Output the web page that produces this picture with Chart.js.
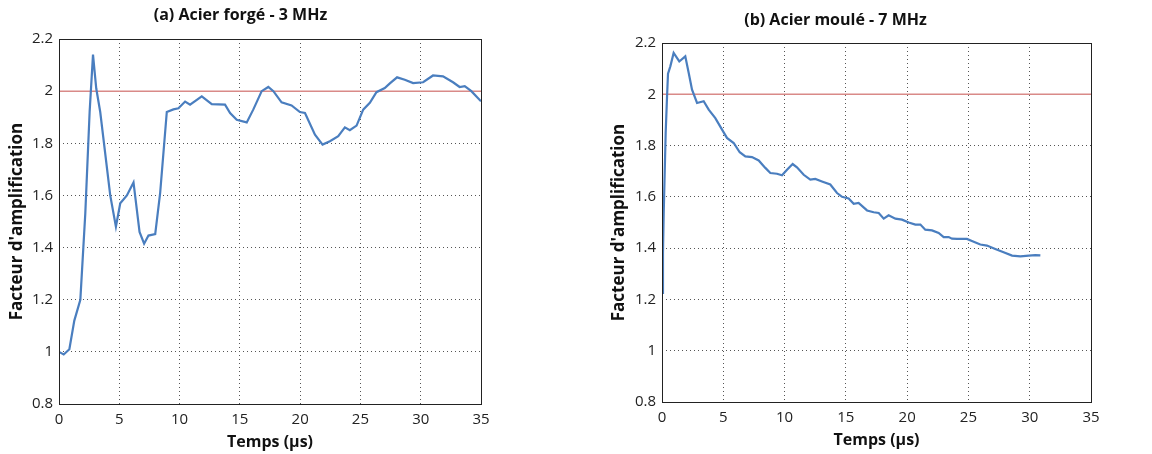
<!DOCTYPE html>
<html>
<head>
<meta charset="utf-8">
<script src="https://cdn.jsdelivr.net/npm/chart.js@4/dist/chart.umd.min.js"></script>
<style>
  body { margin: 0; background: #fff; }
  canvas { position: absolute; top: 0; }
  #chartA { left: 0; }
  #chartB { left: 580px; }
</style>
</head>
<body>
<canvas id="chartA" width="560" height="454"></canvas>
<canvas id="chartB" width="572" height="454"></canvas>
<script>
// (a) Acier forgé - 3 MHz
const tempsA = [0, 0.39, 0.86, 1.27, 1.77, 2.18, 2.54, 2.82, 3.09, 3.42, 4.25, 4.72, 5.08, 5.63, 6.18, 6.68, 7.06, 7.42, 7.98, 8.39,
  8.94, 9.49, 9.91, 10.46, 10.87, 11.84, 12.67, 13.77, 14.19, 14.74, 15.57, 16.12, 16.81, 17.36, 17.78, 18.46, 19.29, 19.98, 20.4,
  21.23, 21.86, 22.47, 23.16, 23.71, 24.12, 24.68, 25.23, 25.78, 26.33, 27.02, 27.44, 28.04, 28.68, 29.37, 30.2, 31.02, 31.85,
  32.68, 33.23, 33.65, 34.2, 35];
const facteurA = [1.0, 0.99, 1.01, 1.12, 1.2, 1.53, 1.92, 2.14, 2.01, 1.92, 1.6, 1.48, 1.57, 1.6, 1.65, 1.46, 1.415, 1.446, 1.452, 1.61,
  1.92, 1.93, 1.934, 1.96, 1.948, 1.98, 1.95, 1.948, 1.916, 1.89, 1.88, 1.93, 2.0, 2.016, 2.0, 1.957, 1.945, 1.92, 1.916,
  1.833, 1.795, 1.808, 1.827, 1.861, 1.85, 1.868, 1.929, 1.955, 1.996, 2.012, 2.03, 2.053, 2.044, 2.031, 2.034, 2.06, 2.057,
  2.034, 2.016, 2.019, 2.0, 1.961];

// (b) Acier moulé - 7 MHz
const tempsB = [0, 0.08, 0.14, 0.22, 0.3, 0.41, 0.49, 0.68, 0.95, 1.41, 1.9, 2.18, 2.45, 2.86, 3.4, 3.81, 4.35, 4.9, 5.3, 5.85,
  6.34, 6.8, 7.34, 7.89, 8.43, 8.84, 9.38, 9.79, 10.2, 10.66, 11.01, 11.56, 12.1, 12.51, 13.05, 13.73, 14.28, 14.69, 15.23,
  15.64, 16.04, 16.73, 17.27, 17.68, 18.09, 18.49, 19.04, 19.58, 20.13, 20.67, 21.08, 21.48, 22.03, 22.57, 22.98, 23.39,
  23.66, 24.07, 24.88, 25.43, 25.97, 26.51, 27.19, 27.87, 28.56, 29.24, 29.92, 30.46, 30.87];
const facteurB = [1.225, 1.381, 1.537, 1.693, 1.849, 1.99, 2.08, 2.109, 2.161, 2.128, 2.148, 2.083, 2.018, 1.966, 1.973, 1.94, 1.907,
  1.862, 1.83, 1.81, 1.774, 1.758, 1.755, 1.742, 1.713, 1.693, 1.69, 1.684, 1.706, 1.728, 1.715, 1.686, 1.667, 1.67, 1.66,
  1.648, 1.615, 1.6, 1.594, 1.573, 1.576, 1.547, 1.54, 1.537, 1.515, 1.528, 1.515, 1.511, 1.5, 1.492, 1.492, 1.472, 1.469,
  1.459, 1.443, 1.443, 1.437, 1.436, 1.436, 1.425, 1.414, 1.41, 1.397, 1.384, 1.371, 1.368, 1.371, 1.373, 1.372];

const seuil = 2;
const xTicks = [0, 5, 10, 15, 20, 25, 30, 35];
const yTicks = [0.8, 1, 1.2, 1.4, 1.6, 1.8, 2, 2.2];

const police = "'Open Sans', 'DejaVu Sans', sans-serif";

const cadre = {
  id: 'cadre',
  afterDatasetsDraw(chart) {
    const a = chart.chartArea;
    const ctx = chart.ctx;
    ctx.save();
    ctx.strokeStyle = '#222';
    ctx.lineWidth = 1;
    ctx.strokeRect(Math.round(a.left) + 0.5, Math.round(a.top) + 0.5, Math.round(a.right - a.left), Math.round(a.bottom - a.top));
    ctx.restore();
  }
};

function makeChart(id, titre, xs, ys, o) {
  const pts = xs.map((x, i) => ({ x: x, y: ys[i] }));
  return new Chart(document.getElementById(id), {
    type: 'scatter',
    data: {
      datasets: [
        { data: pts, showLine: true, borderColor: '#4a7ebf', borderWidth: 2.2, pointRadius: 0, order: 1 },
        { data: [{ x: 0, y: seuil }, { x: 35, y: seuil }], showLine: true, borderColor: '#d98a88', borderWidth: 1.5, pointRadius: 0, order: 2 }
      ]
    },
    options: {
      responsive: false,
      animation: false,
      layout: { padding: { left: 0, right: o.right, top: 0, bottom: 0 } },
      plugins: {
        legend: { display: false },
        tooltip: { enabled: false },
        title: {
          display: true, text: titre, color: '#111',
          font: { family: police, size: 16, weight: 'bold' },
          padding: { top: o.tTop, bottom: o.tBot }
        }
      },
      scales: {
        x: {
          type: 'linear', min: 0, max: 35,
          afterBuildTicks: s => { s.ticks = xTicks.map(v => ({ value: v })); },
          afterFit: s => { s.height = o.xh; },
          grid: { color: '#555', drawTicks: false },
          border: { display: false, dash: [1, 3] },
          ticks: { color: '#222', padding: 7, font: { family: police, size: 15 } },
          title: { display: true, text: 'Temps (µs)', color: '#111', font: { family: police, size: 16, weight: 'bold' }, padding: { top: 0, bottom: o.xtPad } }
        },
        y: {
          min: 0.8, max: 2.2,
          afterBuildTicks: s => { s.ticks = yTicks.map(v => ({ value: v })); },
          afterFit: s => { s.width = o.yw; },
          grid: { color: '#555', drawTicks: false },
          border: { display: false, dash: [1, 3] },
          ticks: { color: '#222', padding: 6, font: { family: police, size: 15 }, callback: v => String(Math.round(v * 10) / 10) },
          title: { display: true, text: "Facteur d'amplification", color: '#111', font: { family: police, size: 17, weight: 'bold' }, padding: { top: o.ytPad, bottom: 0 } }
        }
      }
    },
    plugins: [cadre]
  });
}

makeChart('chartA', '(a) Acier forgé - 3 MHz', tempsA, facteurA,
  { right: 79, tTop: 5.4, tBot: 14.4, xh: 50, yw: 59, xtPad: 2.4, ytPad: 6.8 });
makeChart('chartB', '(b) Acier moulé - 7 MHz', tempsB, facteurB,
  { right: 61, tTop: 10.4, tBot: 13.4, xh: 52, yw: 82, xtPad: 4.4, ytPad: 28.8 });
</script>
</body>
</html>
